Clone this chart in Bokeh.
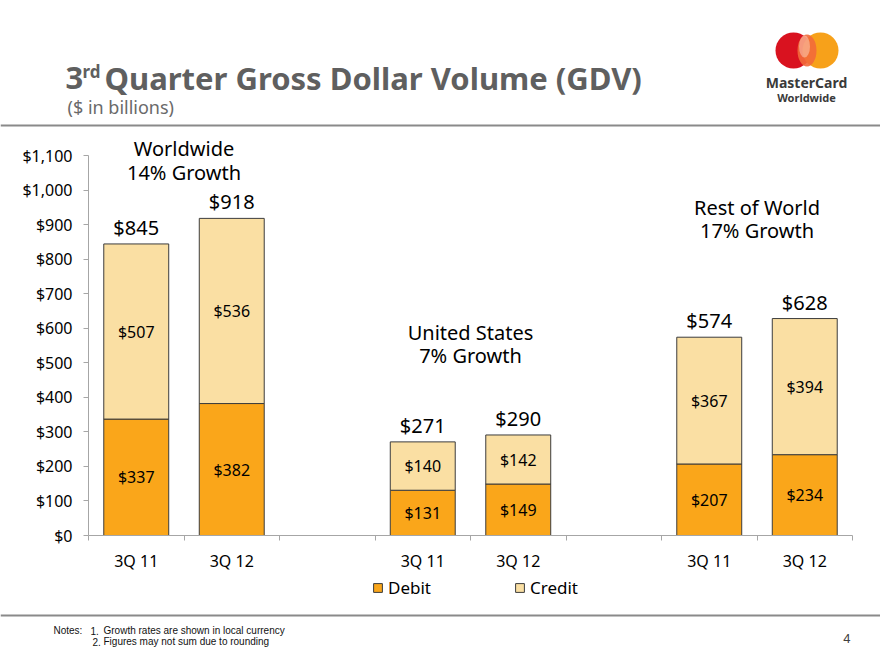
from bokeh.plotting import figure
from bokeh.models import (ColumnDataSource, Range1d, FixedTicker, Legend, LegendItem,
                          NumeralTickFormatter)
from bokeh.layouts import column
from bokeh.embed import file_html
from bokeh.resources import INLINE
from bokeh.core.properties import value

# ---------------- data ----------------
groups = ["Worldwide", "United States", "Rest of World"]
growth = ["14% Growth", "7% Growth", "17% Growth"]
quarters = ["3Q 11", "3Q 12"]
debit = [337, 382, 131, 149, 207, 234]
credit = [507, 536, 140, 142, 367, 394]
totals = [845, 918, 271, 290, 574, 628]
y_ticks = [0, 100, 200, 300, 400, 500, 600, 700, 800, 900, 1000, 1100]
series_names = ["Debit", "Credit"]
note_nums = ["1.", "2."]
notes = ["Growth rates are shown in local currency", "Figures may not sum due to rounding"]

# ---------------- layout / style ----------------
FONT = "Noto Sans"
DEBIT_C = "#FAA61A"
CREDIT_C = "#FADFA3"
EDGE_C = "#3c3c3c"
GRAY = "#5f5f5f"
AXIS_C = "#a6a6a6"
group_label_y = [(1120, 1051), (588, 521), (950, 883)]  # label placement (data units)

xs = [g * 3 + q + 0.5 for g in range(len(groups)) for q in range(len(quarters))]
x_labels = [quarters[q] for g in range(len(groups)) for q in range(len(quarters))]

src = ColumnDataSource(dict(
    x=xs, debit=debit, credit=credit,
    debit_mid=[d / 2 for d in debit],
    credit_mid=[d + c / 2 for d, c in zip(debit, credit)],
    top=[d + c for d, c in zip(debit, credit)],
    debit_lbl=["$%d" % v for v in debit],
    credit_lbl=["$%d" % v for v in credit],
    total_lbl=["$%d" % v for v in totals],
))

W = 880


def blank(height, y0, y1):
    fig = figure(width=W, height=height, x_range=Range1d(0, W), y_range=Range1d(y1, y0),
                 output_backend="svg", toolbar_location=None, x_axis_location=None,
                 y_axis_location=None, min_border=0, min_border_left=0, min_border_right=0,
                 min_border_top=0, min_border_bottom=0)
    fig.grid.visible = False
    fig.outline_line_color = None
    return fig


def txt(fig, x, y, text, size, color="#000000", style="normal", align="left",
        baseline="middle", font=FONT):
    fig.text(x=[x], y=[y], text=[text], text_font=value(font), text_font_size=size,
             text_font_style=style, text_color=color, text_align=align, text_baseline=baseline)


# ---------------- header (page y 0..128) ----------------
h = blank(128, 0, 128)
txt(h, 65, 77, "3", "31px", GRAY, "bold")
txt(h, 82, 71, "rd", "17px", GRAY, "bold")
txt(h, 104, 77, "Quarter Gross Dollar Volume (GDV)", "31px", GRAY, "bold")
txt(h, 67, 106, "($ in billions)", "18px", "#6a6a6a")
h.segment(x0=[0], y0=[125], x1=[W], y1=[125], line_color="#8a8a8a", line_width=2)
# logo
h.scatter(x=[793], y=[50], size=36, marker="circle", fill_color="#D9121F", line_color=None)
h.scatter(x=[820], y=[50], size=36, marker="circle", fill_color="#F7A11A", line_color=None)
h.ellipse(x=[806.5], y=[50], width=19, height=32, fill_color="#F26A3A", fill_alpha=0.9, line_color=None)
h.ellipse(x=[804], y=[46], width=11, height=22, fill_color="#ffffff", fill_alpha=0.35, line_color=None)
txt(h, 806, 82, "MasterCard", "14px", "#3a3a3a", "bold", "center")
txt(h, 806, 97, "Worldwide", "11px", "#3a3a3a", "bold", "center")

# ---------------- main chart (page y 128..575) ----------------
p = figure(width=W, height=447, x_range=Range1d(0, 8), y_range=Range1d(0, 1172.4),
           output_backend="svg", toolbar_location=None,
           min_border_left=88, min_border_right=28, min_border_top=2, min_border_bottom=40)
p.outline_line_color = None
p.grid.visible = False

rs = p.vbar_stack(["debit", "credit"], x="x", width=0.68, source=src,
                  fill_color=[DEBIT_C, CREDIT_C], line_color=EDGE_C, line_width=1)

p.text(x="x", y="debit_mid", text="debit_lbl", source=src, text_align="center", text_baseline="middle",
       text_font=value(FONT), text_font_size="16px", text_color="#000000")
p.text(x="x", y="credit_mid", text="credit_lbl", source=src, text_align="center", text_baseline="middle",
       text_font=value(FONT), text_font_size="16px", text_color="#000000")
p.text(x="x", y="top", text="total_lbl", source=src, text_align="center", text_baseline="bottom",
       y_offset=-3, text_font=value(FONT), text_font_size="20px", text_color="#000000")

gx = [g * 3 + 1 for g in range(len(groups))]
p.text(x=gx, y=[a for a, b in group_label_y], text=groups, text_align="center", text_baseline="middle",
       text_font=value(FONT), text_font_size="20px", text_color="#000000")
p.text(x=gx, y=[b for a, b in group_label_y], text=growth, text_align="center", text_baseline="middle",
       text_font=value(FONT), text_font_size="20px", text_color="#000000")

p.xaxis.ticker = FixedTicker(ticks=xs, minor_ticks=list(range(0, 9)))
p.xaxis.major_label_overrides = {x: l for x, l in zip(xs, x_labels)}
p.xaxis.major_tick_in = 0
p.xaxis.major_tick_out = 0
p.xaxis.minor_tick_in = 0
p.xaxis.minor_tick_out = 5
p.xaxis.minor_tick_line_color = AXIS_C
p.xaxis.axis_line_color = AXIS_C
p.xaxis.major_label_standoff = 9
p.xaxis.major_label_text_font = FONT
p.xaxis.major_label_text_font_size = "16px"
p.xaxis.major_label_text_color = "#000000"

p.yaxis.ticker = FixedTicker(ticks=y_ticks)
p.yaxis.bounds = (0, 1100)
p.yaxis.formatter = NumeralTickFormatter(format="$0,0")
p.yaxis.major_tick_in = 0
p.yaxis.major_tick_out = 5
p.yaxis.minor_tick_out = 0
p.yaxis.minor_tick_in = 0
p.yaxis.major_tick_line_color = AXIS_C
p.yaxis.axis_line_color = AXIS_C
p.yaxis.major_label_standoff = 11
p.yaxis.major_label_text_font = FONT
p.yaxis.major_label_text_font_size = "16px"
p.yaxis.major_label_text_color = "#000000"

# ---------------- footer (page y 575..660) ----------------
f = blank(85, 575, 660)
# hidden stand-ins that carry the series' styling for the legend swatches
leg_r = [f.vbar(x="x", top=col, source=src, width=0.68, fill_color=c, line_color=EDGE_C, visible=False)
         for col, c in (("debit", DEBIT_C), ("credit", CREDIT_C))]
legend = Legend(items=[LegendItem(label=series_names[i], renderers=[leg_r[i]]) for i in range(2)],
                orientation="horizontal", location=(372, 61), border_line_color=None,
                background_fill_alpha=0, glyph_width=11, glyph_height=11, label_standoff=5,
                label_width=125, spacing=1, padding=0, margin=0,
                inactive_fill_alpha=0,
                label_text_font=FONT, label_text_font_size="17px", label_text_color="#000000")
f.add_layout(legend)
f.segment(x0=[0], y0=[615], x1=[W], y1=[615], line_color="#8a8a8a", line_width=2)
NF = "Liberation Sans"
txt(f, 53, 630, "Notes:", "10px", "#111111", font=NF)
f.text(x=[90, 92], y=[630, 641], text=note_nums, text_font=value(NF), text_font_size="10px",
       text_color="#111111", text_baseline="middle")
f.text(x=[103, 103], y=[630, 641], text=notes, text_font=value(NF), text_font_size="10px",
       text_color="#111111", text_baseline="middle")
txt(f, 850, 638, "4", "13px", "#404040", align="right", font=NF)

for fig in (h, p, f):
    try:
        fig.frame_align = False
    except Exception:
        pass

layout = column(h, p, f, spacing=0)
open("out.html", "w").write(file_html(layout, INLINE))
